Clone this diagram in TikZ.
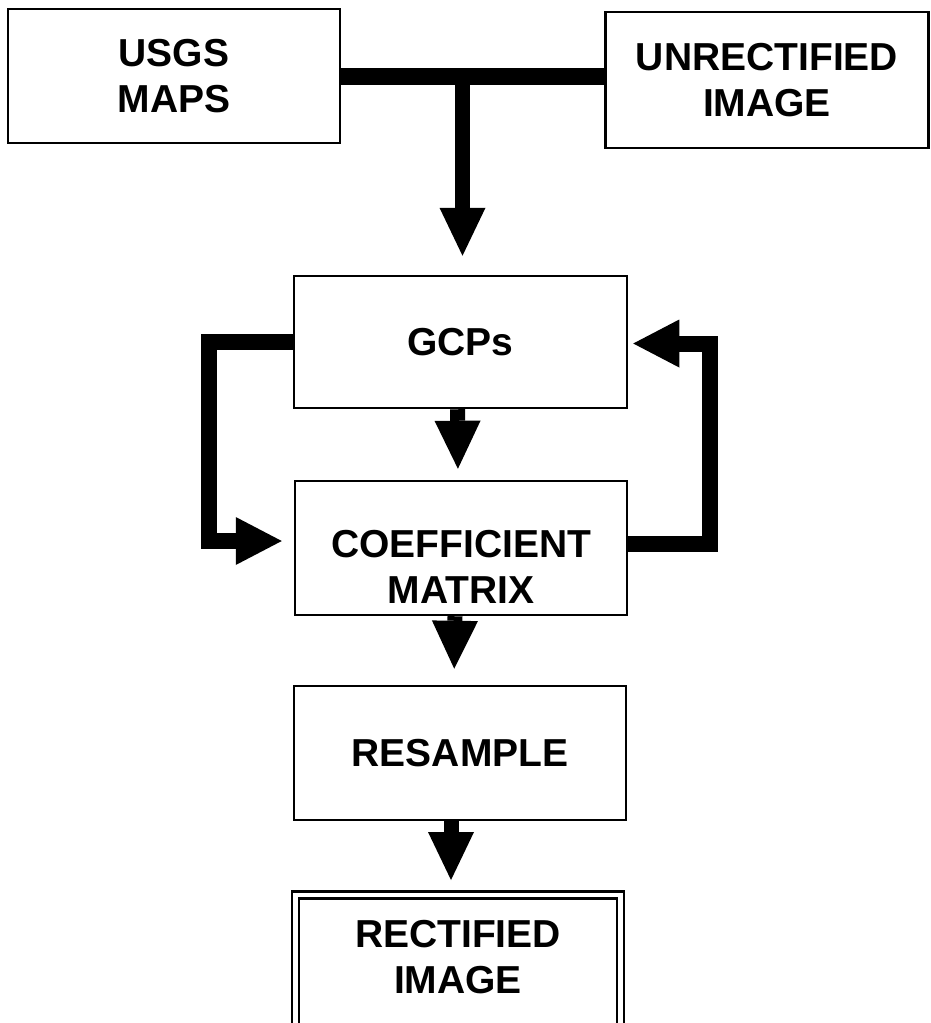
\documentclass[tikz,border=0pt]{standalone}
\usepackage{fontspec}
\setmainfont{Liberation Sans}
\usetikzlibrary{arrows.meta}
\newcommand{\boxfont}{\fontsize{39pt}{46pt}\selectfont\bfseries}
\begin{document}
\begin{tikzpicture}[x=1pt,y=-1pt,
  box/.style={draw, line width=2.5pt, inner sep=0pt, align=center, font=\boxfont},
  dbox/.style={draw, line width=2.5pt, double, double distance=4.5pt, inner sep=0pt},
  txt/.style={inner sep=0pt, align=center, font=\boxfont},
  bar/.style={line width=17pt},
  flow/.style={line width=15pt, -{Triangle[width=46pt,length=48pt,line width=0pt]}},
  loopflow/.style={line width=16pt, line join=miter, -{Triangle[width=48pt,length=46pt,line width=0pt]}}
]
\useasboundingbox (0,0) rectangle (931,1023);
\clip (0,0) rectangle (931,1023);

% process boxes
\node[box, minimum width=332pt, minimum height=134pt] (usgs) at (174,76) {USGS\\MAPS};
\node[box, minimum width=323pt, minimum height=136pt] (unrect) at (767,80) {UNRECTIFIED\\IMAGE};
\node[box, minimum width=333pt, minimum height=132pt] (gcps) at (460.5,342) {GCPs};
\node[box, minimum width=332pt, minimum height=134pt] (coeff) at (461,548) {};
\node[txt] (coefftxt) at (461,567) {COEFFICIENT\\MATRIX};
\node[box, minimum width=332pt, minimum height=134pt] (resample) at (460,753) {RESAMPLE};
\node[dbox, minimum width=325pt, minimum height=170pt, anchor=north] (rect) at (458,893.5) {};
\node[txt] (recttxt) at (458,957) {RECTIFIED\\IMAGE};

% inputs joined by a bar, then down to the GCPs
\draw[bar] (usgs.east) -- (usgs.east -| unrect.west);
\coordinate (jn) at (462.5,76);
\draw[flow, shorten >=19pt] (jn) -- ([xshift=2pt]gcps.north);

% main chain
\draw[flow, shorten >=11pt] ([xshift=-3pt]gcps.south) -- ([xshift=-3pt]coeff.north);
\draw[flow, shorten >=16pt] ([xshift=-6pt]coeff.south) -- ([xshift=-6pt]resample.north);
\draw[flow, shorten >=13.5pt] ([xshift=-9pt]resample.south) -- ([xshift=-7pt]rect.north);

% iteration loops
\draw[loopflow, shorten >=12pt] (gcps.west) -- ++(-84,0) |- ([yshift=7pt]coeff.west);
\draw[loopflow, shorten >=5pt] ([yshift=4pt]coeff.east) -- ++(82,0) |- ([yshift=-1.5pt]gcps.east);
\end{tikzpicture}
\end{document}
